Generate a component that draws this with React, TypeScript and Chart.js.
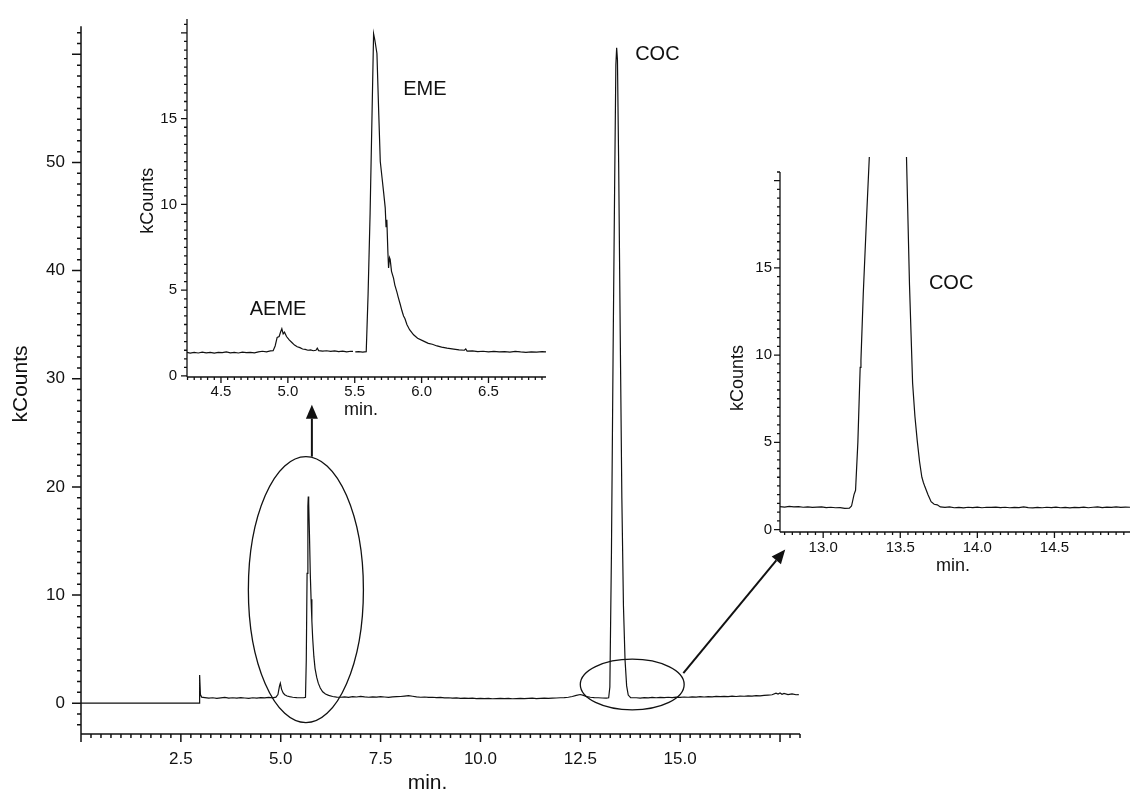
import React, { useEffect, useRef } from "react";
import { Chart, registerables } from "chart.js";

Chart.register(...registerables);

const W = 1130;
const H = 791;
const FONT = '"Liberation Sans", Arial, Helvetica, sans-serif';
const INK = "#111111";

// ---------------- Main chromatogram (min / kCounts) ----------------
const mainTime = [
  0, 2.965, 2.97, 2.99, 3.02,
  3.1, 3.2, 3.3, 3.4, 3.5, 3.6, 3.7, 3.8, 3.9, 4.0, 4.1, 4.2, 4.3, 4.4, 4.5, 4.6, 4.7, 4.8,
  4.88, 4.93, 4.97, 4.99, 5.02, 5.06, 5.1, 5.16, 5.22, 5.3, 5.4, 5.5, 5.58, 5.62,
  5.64, 5.66, 5.68, 5.69, 5.7, 5.72, 5.74, 5.76, 5.78, 5.8, 5.83, 5.86, 5.9, 5.94, 5.99,
  6.05, 6.12, 6.2, 6.3, 6.4, 6.5,
  6.6, 6.7, 6.8, 6.9, 7.0, 7.1, 7.2, 7.3, 7.4, 7.5, 7.6, 7.7, 7.8, 7.9, 8.0, 8.1, 8.2, 8.3,
  8.4, 8.5, 8.6, 8.7, 8.8, 8.9, 9.0, 9.1, 9.2, 9.3, 9.4, 9.5, 9.6, 9.7, 9.8, 9.9, 10.0,
  10.1, 10.2, 10.3, 10.4, 10.5, 10.6, 10.7, 10.8, 10.9, 11.0, 11.1, 11.2, 11.3, 11.4, 11.5,
  11.6, 11.7, 11.8, 11.9, 12.0, 12.1, 12.2,
  12.3, 12.4, 12.5, 12.58, 12.66, 12.75, 12.85, 12.95, 13.05, 13.15, 13.21,
  13.24, 13.28, 13.32, 13.36, 13.39, 13.41, 13.43, 13.46, 13.5, 13.54, 13.58, 13.62, 13.66,
  13.7, 13.76,
  13.9, 14.0, 14.1, 14.2, 14.3, 14.4, 14.5, 14.6, 14.7, 14.8, 14.9, 15.0, 15.1, 15.2, 15.3,
  15.4, 15.5, 15.6, 15.7, 15.8, 15.9, 16.0, 16.1, 16.2, 16.3, 16.4, 16.5, 16.6, 16.7, 16.8,
  16.9, 17.0, 17.1, 17.2, 17.3, 17.4, 17.45, 17.5, 17.55, 17.6, 17.7, 17.8, 17.9, 17.97,
];
const mainCounts = [
  0, 0, 2.6, 0.8, 0.56,
  0.52, 0.47, 0.5, 0.45, 0.49, 0.53, 0.47, 0.5, 0.46, 0.51, 0.48, 0.44, 0.5, 0.47, 0.52, 0.49, 0.53, 0.5,
  0.56, 0.8, 1.6, 1.85, 1.3, 0.95, 0.78, 0.66, 0.6, 0.55, 0.52, 0.5, 0.52, 0.55,
  4.0, 12, 18.2, 19.1, 18.5, 15.5, 12.0, 9.6, 7.6, 6.0, 4.3, 3.2, 2.4, 1.85, 1.4,
  1.05, 0.85, 0.72, 0.62, 0.56, 0.55,
  0.58, 0.54, 0.6, 0.57, 0.62, 0.58, 0.55, 0.59, 0.56, 0.6, 0.57, 0.54, 0.58, 0.6, 0.62, 0.66, 0.7, 0.64,
  0.58, 0.55, 0.57, 0.53, 0.55, 0.51, 0.53, 0.49, 0.5, 0.47, 0.49, 0.45, 0.47, 0.44, 0.46, 0.43, 0.45,
  0.42, 0.44, 0.41, 0.43, 0.45, 0.42, 0.44, 0.41, 0.43, 0.45, 0.42, 0.44, 0.46, 0.43, 0.45,
  0.47, 0.44, 0.46, 0.48, 0.5, 0.52, 0.55,
  0.62, 0.72, 0.8, 0.72, 0.6, 0.55, 0.52, 0.5, 0.48, 0.47, 0.5,
  1.5, 14, 32, 48, 59, 60.6, 59.5, 50, 34, 19, 9, 4, 1.6,
  0.75, 0.52,
  0.5, 0.47, 0.52, 0.49, 0.53, 0.5, 0.54, 0.51, 0.55, 0.52, 0.56, 0.53, 0.57, 0.55, 0.58,
  0.56, 0.6, 0.57, 0.61, 0.59, 0.62, 0.6, 0.63, 0.61, 0.65, 0.62, 0.66, 0.64, 0.68, 0.66,
  0.7, 0.68, 0.72, 0.75, 0.78, 0.92, 0.85, 0.95, 0.82, 0.9, 0.8, 0.86, 0.78, 0.8,
];
const mainXLabels = [2.5, 5.0, 7.5, 10.0, 12.5, 15.0];
const mainYLabels = [0, 10, 20, 30, 40, 50];

// ---------------- Inset: AEME / EME (4.25 - 6.9 min) ----------------
const emeTime = [
  4.246, 4.27, 4.3, 4.33, 4.36, 4.39, 4.42, 4.45, 4.48, 4.51, 4.54, 4.57, 4.6, 4.63, 4.66,
  4.69, 4.72, 4.75, 4.78, 4.81, 4.84, 4.87, 4.89,
  4.905, 4.92, 4.935, 4.945, 4.955, 4.965, 4.975, 4.99, 5.01, 5.03, 5.05, 5.07, 5.09, 5.11,
  5.13, 5.15, 5.17, 5.19, 5.21, 5.22, 5.23, 5.26, 5.29, 5.32, 5.35, 5.38, 5.41, 5.44, 5.47,
  5.487, 5.495, 5.504, 5.53, 5.56, 5.586,
  5.6, 5.615, 5.63, 5.641, 5.65, 5.666, 5.68, 5.691, 5.705, 5.716, 5.728, 5.734, 5.74,
  5.748, 5.753, 5.76, 5.765, 5.775, 5.79, 5.8, 5.815, 5.825, 5.84, 5.853, 5.865, 5.875,
  5.89, 5.91, 5.94, 5.97, 6.015, 6.05, 6.08, 6.115, 6.15, 6.19, 6.24, 6.28, 6.32, 6.33,
  6.34, 6.38, 6.42, 6.46, 6.5, 6.54, 6.58, 6.62, 6.66, 6.7, 6.74, 6.78, 6.82, 6.86, 6.9, 6.93,
];
const emeCounts = [
  1.38, 1.33, 1.37, 1.34, 1.39, 1.35, 1.38, 1.33, 1.37, 1.36, 1.4, 1.35, 1.37, 1.34, 1.39,
  1.36, 1.38, 1.35, 1.4, 1.44, 1.41, 1.46, 1.47,
  1.75, 2.25, 2.3, 2.55, 2.75, 2.45, 2.55, 2.3, 2.1, 1.95, 1.8, 1.7, 1.65, 1.57,
  1.55, 1.5, 1.52, 1.47, 1.5, 1.62, 1.48, 1.45, 1.47, 1.43, 1.46, 1.42, 1.45, 1.41, 1.44,
  1.43, null, 1.4, 1.42, 1.39, 1.42,
  4.8, 9.5, 15.5, 19.95, 19.6, 18.8, 15.2, 12.5, 11.5, 10.7, 9.8, 8.7, 9.1,
  7.2, 6.3, 6.9, 6.8, 6.1, 5.7, 5.3, 4.9, 4.6, 4.18, 3.8, 3.5, 3.35,
  3.0, 2.7, 2.4, 2.2, 2.03, 1.9, 1.85, 1.75, 1.68, 1.62, 1.57, 1.52, 1.5, 1.58,
  1.45, 1.46, 1.42, 1.44, 1.41, 1.43, 1.4, 1.42, 1.39, 1.43, 1.4, 1.38, 1.41, 1.39, 1.42, 1.4,
];
const emeXLabels = [4.5, 5.0, 5.5, 6.0, 6.5];
const emeYLabels = [0, 5, 10, 15];

// ---------------- Inset: COC (12.7 - 15 min) ----------------
const cocTime = [
  12.72, 12.75, 12.78, 12.81, 12.84, 12.87, 12.9, 12.93, 12.96, 12.99, 13.02, 13.05, 13.08,
  13.11, 13.14, 13.17, 13.184, 13.2, 13.21, 13.225, 13.24, 13.245, 13.26, 13.28, 13.3,
  13.4, 13.44, 13.54, 13.56, 13.58, 13.595, 13.61, 13.625, 13.64, 13.65, 13.66, 13.68,
  13.7, 13.72, 13.74, 13.76, 13.79, 13.82, 13.85, 13.88, 13.91, 13.94, 13.97, 14.0, 14.03,
  14.06, 14.09, 14.12, 14.15, 14.18, 14.21, 14.24, 14.27, 14.3, 14.33, 14.36, 14.39, 14.42,
  14.45, 14.48, 14.51, 14.54, 14.57, 14.6, 14.63, 14.66, 14.69, 14.72, 14.75, 14.78, 14.81,
  14.84, 14.87, 14.9, 14.93, 14.96, 14.99,
];
const cocCounts = [
  1.32, 1.29, 1.33, 1.3, 1.31, 1.28, 1.3, 1.27, 1.29, 1.3, 1.26, 1.28, 1.25,
  1.26, 1.22, 1.23, 1.35, 2.0, 2.25, 5.0, 9.3, 9.7, 13.5, 17.6, 21.5,
  60, 60, 21.5, 14, 8.4, 6.5, 5.1, 3.9, 3.0, 2.7, 2.45, 2.0,
  1.6, 1.45, 1.42, 1.3, 1.27, 1.3, 1.25, 1.27, 1.24, 1.28, 1.26, 1.29, 1.25,
  1.28, 1.27, 1.29, 1.26, 1.28, 1.25, 1.27, 1.26, 1.3, 1.26, 1.24, 1.27, 1.25,
  1.28, 1.26, 1.29, 1.25, 1.27, 1.24, 1.27, 1.26, 1.29, 1.25, 1.28, 1.3, 1.26,
  1.29, 1.27, 1.3, 1.27, 1.29, 1.28,
];
const cocXLabels = [13.0, 13.5, 14.0, 14.5];
const cocYLabels = [0, 5, 10, 15];

// ---------------- Annotations on the main chart (data units) ----------------
const zoomEllipses = [
  { cx: 5.63, cy: 10.5, rx: 1.44, ry: 12.3 },
  { cx: 13.8, cy: 1.73, rx: 1.3, ry: 2.34 },
];
const zoomArrows = [
  { x1: 5.78, y1: 22.8, x2: 5.78, y2: 27.6 },
  { x1: 15.08, y1: 2.78, x2: 17.63, y2: 14.2 },
];

type TickSpec = { minor: number; major: number; minorLen: number; majorLen: number };
type TextSpec = { text: string; x: number; y: number; size: number; rotate?: boolean; data?: boolean };
type Panel = {
  times: number[];
  counts: (number | null)[];
  xMin: number; xMax: number; yMin: number; yMax: number;
  area: { left: number; top: number; right: number; bottom: number };
  xLabels: number[]; yLabels: number[];
  xDecimals: number;
  tickSize: number; xPad: number; yPad: number;
  xTicks: TickSpec; yTicks: TickSpec;
  axisWidth: number; lineWidth: number;
  clip: any;
  texts: TextSpec[];
  extra?: (chart: any) => void;
};

function decorPlugin(p: Panel) {
  return {
    id: "decor",
    afterDraw(chart: any) {
      const { ctx, chartArea: a, scales } = chart;
      const xs = scales.x;
      const ys = scales.y;
      ctx.save();
      ctx.strokeStyle = INK;
      ctx.lineWidth = p.axisWidth;
      ctx.beginPath();
      ctx.moveTo(a.left, a.top);
      ctx.lineTo(a.left, a.bottom);
      ctx.moveTo(a.left, a.bottom);
      ctx.lineTo(a.right, a.bottom);
      const yt = p.yTicks;
      for (let i = Math.ceil(ys.min / yt.minor - 1e-6); i * yt.minor <= ys.max + 1e-9; i++) {
        const v = i * yt.minor;
        const r = v / yt.major;
        const major = Math.abs(r - Math.round(r)) < 1e-6;
        const py = ys.getPixelForValue(v);
        ctx.moveTo(a.left - (major ? yt.majorLen : yt.minorLen), py);
        ctx.lineTo(a.left, py);
      }
      const xt = p.xTicks;
      for (let i = Math.ceil(xs.min / xt.minor - 1e-6); i * xt.minor <= xs.max + 1e-9; i++) {
        const v = i * xt.minor;
        const r = v / xt.major;
        const major = Math.abs(r - Math.round(r)) < 1e-6;
        const px = xs.getPixelForValue(v);
        ctx.moveTo(px, a.bottom);
        ctx.lineTo(px, a.bottom + (major ? xt.majorLen : xt.minorLen));
      }
      ctx.stroke();

      ctx.fillStyle = INK;
      ctx.textAlign = "center";
      ctx.textBaseline = "middle";
      for (const t of p.texts) {
        ctx.font = `${t.size}px ${FONT}`;
        const px = t.data ? xs.getPixelForValue(t.x) : t.x;
        const py = t.data ? ys.getPixelForValue(t.y) : t.y;
        if (t.rotate) {
          ctx.save();
          ctx.translate(px, py);
          ctx.rotate(-Math.PI / 2);
          ctx.fillText(t.text, 0, 0);
          ctx.restore();
        } else {
          ctx.fillText(t.text, px, py);
        }
      }
      if (p.extra) p.extra(chart);
      ctx.restore();
    },
  };
}

function drawZoomMarks(chart: any) {
  const { ctx, scales } = chart;
  const xs = scales.x;
  const ys = scales.y;
  ctx.strokeStyle = INK;
  ctx.fillStyle = INK;
  ctx.lineWidth = 1.3;
  for (const e of zoomEllipses) {
    const cx = xs.getPixelForValue(e.cx);
    const cy = ys.getPixelForValue(e.cy);
    const rx = Math.abs(xs.getPixelForValue(e.cx + e.rx) - cx);
    const ry = Math.abs(ys.getPixelForValue(e.cy + e.ry) - cy);
    ctx.beginPath();
    ctx.ellipse(cx, cy, rx, ry, 0, 0, Math.PI * 2);
    ctx.stroke();
  }
  ctx.lineWidth = 2;
  for (const ar of zoomArrows) {
    const x1 = xs.getPixelForValue(ar.x1);
    const y1 = ys.getPixelForValue(ar.y1);
    const x2 = xs.getPixelForValue(ar.x2);
    const y2 = ys.getPixelForValue(ar.y2);
    const ang = Math.atan2(y2 - y1, x2 - x1);
    const headLen = 14;
    const headHalf = 6;
    const bx = x2 - headLen * Math.cos(ang);
    const by = y2 - headLen * Math.sin(ang);
    ctx.beginPath();
    ctx.moveTo(x1, y1);
    ctx.lineTo(bx, by);
    ctx.stroke();
    ctx.beginPath();
    ctx.moveTo(x2, y2);
    ctx.lineTo(bx + headHalf * Math.sin(ang), by - headHalf * Math.cos(ang));
    ctx.lineTo(bx - headHalf * Math.sin(ang), by + headHalf * Math.cos(ang));
    ctx.closePath();
    ctx.fill();
  }
}

function buildConfig(p: Panel): any {
  const data = p.times.map((t, i) => ({ x: t, y: p.counts[i] }));
  return {
    type: "line",
    data: {
      datasets: [
        {
          data,
          borderColor: INK,
          borderWidth: p.lineWidth,
          pointRadius: 0,
          tension: 0,
          fill: false,
          spanGaps: false,
          clip: p.clip,
        },
      ],
    },
    options: {
      responsive: false,
      animation: false,
      devicePixelRatio: 1,
      events: [],
      layout: { padding: { left: 0, top: p.area.top, right: W - p.area.right, bottom: 0 } },
      plugins: { legend: { display: false }, tooltip: { enabled: false } },
      scales: {
        x: {
          type: "linear",
          position: "bottom",
          min: p.xMin,
          max: p.xMax,
          grid: { display: false, drawTicks: false },
          border: { display: false },
          afterBuildTicks: (s: any) => {
            s.ticks = p.xLabels.map((v) => ({ value: v }));
          },
          ticks: {
            autoSkip: false,
            maxRotation: 0,
            minRotation: 0,
            padding: p.xPad,
            color: INK,
            font: { family: FONT, size: p.tickSize },
            callback: (v: number) => Number(v).toFixed(p.xDecimals),
          },
          afterFit: (s: any) => {
            s.height = H - p.area.bottom;
          },
        },
        y: {
          type: "linear",
          position: "left",
          min: p.yMin,
          max: p.yMax,
          grid: { display: false, drawTicks: false },
          border: { display: false },
          afterBuildTicks: (s: any) => {
            s.ticks = p.yLabels.map((v) => ({ value: v }));
          },
          ticks: {
            autoSkip: false,
            padding: p.yPad,
            color: INK,
            font: { family: FONT, size: p.tickSize },
            callback: (v: number) => String(Math.round(v)),
          },
          afterFit: (s: any) => {
            s.width = p.area.left;
          },
        },
      },
    },
    plugins: [decorPlugin(p)],
  };
}

const mainPanel: Panel = {
  times: mainTime,
  counts: mainCounts,
  xMin: 0, xMax: 18, yMin: -2.85, yMax: 62.6,
  area: { left: 81, top: 13, right: 800, bottom: 734 },
  xLabels: mainXLabels, yLabels: mainYLabels,
  xDecimals: 1,
  tickSize: 17, xPad: 15, yPad: 16,
  xTicks: { minor: 0.25, major: 2.5, minorLen: 4, majorLen: 8 },
  yTicks: { minor: 1, major: 10, minorLen: 4, majorLen: 9 },
  axisWidth: 1.5, lineWidth: 1.2,
  clip: 2,
  texts: [
    { text: "kCounts", x: 21, y: 384, size: 21, rotate: true },
    { text: "min.", x: 427.5, y: 783, size: 21 },
    { text: "COC", x: 14.43, y: 60.0, size: 20, data: true },
  ],
  extra: drawZoomMarks,
};

const emePanel: Panel = {
  times: emeTime,
  counts: emeCounts,
  xMin: 4.246, xMax: 6.93, yMin: -0.06, yMax: 20.81,
  area: { left: 187, top: 15, right: 546, bottom: 377 },
  xLabels: emeXLabels, yLabels: emeYLabels,
  xDecimals: 1,
  tickSize: 15, xPad: 6, yPad: 10,
  xTicks: { minor: 0.05, major: 0.5, minorLen: 3, majorLen: 6 },
  yTicks: { minor: 0.5, major: 5, minorLen: 3, majorLen: 6 },
  axisWidth: 1.3, lineWidth: 1.2,
  clip: 2,
  texts: [
    { text: "kCounts", x: 148.3, y: 200.8, size: 18, rotate: true },
    { text: "min.", x: 361, y: 410, size: 18 },
    { text: "EME", x: 6.025, y: 16.7, size: 20, data: true },
    { text: "AEME", x: 4.927, y: 3.89, size: 20, data: true },
  ],
};

const cocPanel: Panel = {
  times: cocTime,
  counts: cocCounts,
  xMin: 12.72, xMax: 14.99, yMin: -0.14, yMax: 20.5,
  area: { left: 780, top: 172, right: 1130, bottom: 532 },
  xLabels: cocXLabels, yLabels: cocYLabels,
  xDecimals: 1,
  tickSize: 15, xPad: 7, yPad: 8,
  xTicks: { minor: 0.05, major: 0.5, minorLen: 3, majorLen: 6 },
  yTicks: { minor: 0.5, major: 5, minorLen: 3, majorLen: 6 },
  axisWidth: 1.3, lineWidth: 1.2,
  clip: { left: 1, top: 15, right: 1, bottom: 1 },
  texts: [
    { text: "kCounts", x: 738.3, y: 378, size: 18, rotate: true },
    { text: "min.", x: 953, y: 566, size: 18 },
    { text: "COC", x: 13.83, y: 14.1, size: 20, data: true },
  ],
};

export default function App() {
  const mainRef = useRef<HTMLCanvasElement>(null);
  const emeRef = useRef<HTMLCanvasElement>(null);
  const cocRef = useRef<HTMLCanvasElement>(null);

  useEffect(() => {
    document.body.style.margin = "0";
    const charts = [
      new Chart(mainRef.current as HTMLCanvasElement, buildConfig(mainPanel)),
      new Chart(emeRef.current as HTMLCanvasElement, buildConfig(emePanel)),
      new Chart(cocRef.current as HTMLCanvasElement, buildConfig(cocPanel)),
    ];
    return () => charts.forEach((c) => c.destroy());
  }, []);

  const cs: React.CSSProperties = { position: "absolute", left: 0, top: 0, width: W, height: H };
  return (
    <div style={{ position: "relative", width: W, height: H, background: "#ffffff", overflow: "hidden" }}>
      <canvas ref={mainRef} width={W} height={H} style={cs} />
      <canvas ref={emeRef} width={W} height={H} style={cs} />
      <canvas ref={cocRef} width={W} height={H} style={cs} />
    </div>
  );
}
